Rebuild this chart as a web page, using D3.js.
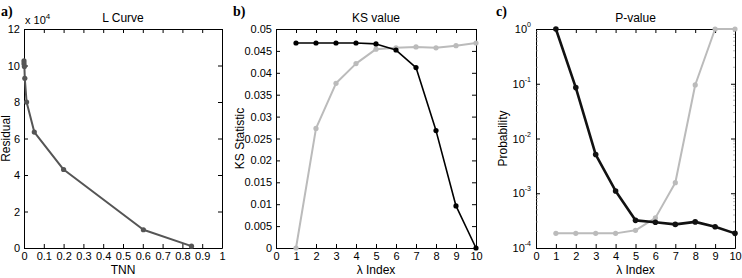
<!DOCTYPE html>
<html>
<head>
<meta charset="utf-8">
<script src="https://cdn.jsdelivr.net/npm/d3@7"></script>
<style>
  body { margin: 0; background: #fff; }
  svg text { font-family: "Liberation Sans", Arial, sans-serif; }
  .tick text { font-size: 11px; fill: #000; }
  .domain { stroke: #000; }
</style>
</head>
<body>
<div id="chart"></div>
<script>
// panel a: L curve
const tnn = [0, 0, 0.002, 0.004, 0.013, 0.052, 0.2, 0.603, 0.846];
const residual = [10.25, 10.1, 9.95, 9.3, 8.0, 6.35, 4.3, 1.0, 0.1]; // x 10^4

// panel b + c share the lambda index
const lambdaIndex = [1, 2, 3, 4, 5, 6, 7, 8, 9, 10];
const ksBlack = [0.0468, 0.0468, 0.0468, 0.0468, 0.0466, 0.0452, 0.0412, 0.0268, 0.0096, 0];
const ksGray = [0, 0.0273, 0.0376, 0.0421, 0.0454, 0.0457, 0.0459, 0.0457, 0.0462, 0.0468];
const pBlack = [1.0, 0.085, 0.0051, 0.0011, 0.00032, 0.000295, 0.00027, 0.0003, 0.000245, 0.000185];
const pGray = [0.000185, 0.000185, 0.000185, 0.000185, 0.00021, 0.000355, 0.00156, 0.095, 1.0, 1.0];

const tnnTicks = [0, 0.1, 0.2, 0.3, 0.4, 0.5, 0.6, 0.7, 0.8, 0.9, 1];
const resTicks = [0, 2, 4, 6, 8, 10, 12];
const idxTicks = [0, 1, 2, 3, 4, 5, 6, 7, 8, 9, 10];
const ksTicks = [0, 0.005, 0.01, 0.015, 0.02, 0.025, 0.03, 0.035, 0.04, 0.045, 0.05];
const pTicks = [1e-4, 1e-3, 1e-2, 1e-1, 1];

const svg = d3.select("#chart").append("svg")
  .attr("width", 742)
  .attr("height", 278);

const plotTop = 29, plotBottom = 248;

// draws a MATLAB style box with ticks on all four sides pointing inward
function drawBox(g, x, y, xTicks, yTicks, xFmt, yFmt, w, h) {
  g.append("g")
    .attr("transform", "translate(0," + h + ")")
    .call(d3.axisBottom(x).tickValues(xTicks).tickFormat(xFmt).tickSizeInner(-4).tickSizeOuter(0).tickPadding(4));
  g.append("g")
    .call(d3.axisTop(x).tickValues(xTicks).tickFormat("").tickSizeInner(-4).tickSizeOuter(0));
  g.append("g")
    .call(d3.axisLeft(y).tickValues(yTicks).tickFormat(yFmt).tickSizeInner(-4).tickSizeOuter(0).tickPadding(4));
  g.append("g")
    .attr("transform", "translate(" + w + ",0)")
    .call(d3.axisRight(y).tickValues(yTicks).tickFormat("").tickSizeInner(-4).tickSizeOuter(0));
  g.selectAll(".domain").attr("stroke-width", 1);
  g.selectAll(".tick line").attr("stroke", "#000");
}

function drawSeries(g, x, y, xs, ys, color, width, r) {
  const pts = xs.map((d, i) => [d, ys[i]]);
  g.append("path")
    .datum(pts)
    .attr("fill", "none")
    .attr("stroke", color)
    .attr("stroke-width", width)
    .attr("stroke-linejoin", "round")
    .attr("d", d3.line().x(d => x(d[0])).y(d => y(d[1])));
  g.selectAll(null)
    .data(pts)
    .enter().append("circle")
    .attr("cx", d => x(d[0]))
    .attr("cy", d => y(d[1]))
    .attr("r", r)
    .attr("fill", color);
}

function panelLabel(text, px) {
  svg.append("text")
    .attr("x", px).attr("y", 16)
    .style("font-family", "'Liberation Serif', 'Times New Roman', serif")
    .style("font-weight", "bold")
    .style("font-size", "14px")
    .text(text);
}

function axisTitles(g, w, h, title, xTitle, yTitle, yOffset) {
  g.append("text").attr("x", w / 2).attr("y", -7).attr("text-anchor", "middle")
    .style("font-size", "12px").text(title);
  g.append("text").attr("x", w / 2).attr("y", h + 26).attr("text-anchor", "middle")
    .style("font-size", "12px").text(xTitle);
  g.append("text").attr("transform", "translate(" + yOffset + "," + (h / 2) + ") rotate(-90)")
    .attr("text-anchor", "middle").style("font-size", "12px").text(yTitle);
}

// ---- panel a
{
  const left = 24, right = 222;
  const w = right - left, h = plotBottom - plotTop;
  const g = svg.append("g").attr("transform", "translate(" + left + "," + plotTop + ")");
  const x = d3.scaleLinear().domain([0, 1]).range([0, w]);
  const y = d3.scaleLinear().domain([0, 12]).range([h, 0]);
  drawBox(g, x, y, tnnTicks, resTicks, d => d, d => d, w, h);
  drawSeries(g, x, y, tnn, residual, "#555", 2, 2.6);

  const ex = g.append("text").attr("x", 1).attr("y", -5).style("font-size", "11px");
  ex.append("tspan").text("x 10");
  ex.append("tspan").attr("dy", -5).style("font-size", "8px").text("4");

  axisTitles(g, w, h, "L Curve", "TNN", "Residual", -14);
  panelLabel("a)", 1);
}

// ---- panel b
{
  const left = 276, right = 476;
  const w = right - left, h = plotBottom - plotTop;
  const g = svg.append("g").attr("transform", "translate(" + left + "," + plotTop + ")");
  const x = d3.scaleLinear().domain([0, 10]).range([0, w]);
  const y = d3.scaleLinear().domain([0, 0.05]).range([h, 0]);
  drawBox(g, x, y, idxTicks, ksTicks, d => d, d => d, w, h);
  drawSeries(g, x, y, lambdaIndex, ksGray, "#bbb", 2, 2.6);
  drawSeries(g, x, y, lambdaIndex, ksBlack, "#000", 1.6, 2.6);

  axisTitles(g, w, h, "KS value", "λ Index", "KS Statistic", -32);
  panelLabel("b)", 233);
}

// ---- panel c
{
  const left = 536, right = 735;
  const w = right - left, h = plotBottom - plotTop;
  const g = svg.append("g").attr("transform", "translate(" + left + "," + plotTop + ")");
  const x = d3.scaleLinear().domain([0, 10]).range([0, w]);
  const y = d3.scaleLog().domain([1e-4, 1]).range([h, 0]);
  drawBox(g, x, y, idxTicks, pTicks, d => d, () => "", w, h);

  // minor log ticks
  const minor = [];
  pTicks.slice(0, -1).forEach(p => { for (let k = 2; k <= 9; k++) minor.push(p * k); });
  g.selectAll(null).data(minor).enter().append("line")
    .attr("x1", 0).attr("x2", 2)
    .attr("y1", d => y(d)).attr("y2", d => y(d))
    .attr("stroke", "#888").attr("stroke-width", 0.6);
  g.selectAll(null).data(minor).enter().append("line")
    .attr("x1", w).attr("x2", w - 2)
    .attr("y1", d => y(d)).attr("y2", d => y(d))
    .attr("stroke", "#888").attr("stroke-width", 0.6);

  // exponent tick labels
  pTicks.forEach(p => {
    const t = g.append("text").attr("x", -5).attr("y", y(p) + 4)
      .attr("text-anchor", "end").style("font-size", "11px");
    t.append("tspan").text("10");
    t.append("tspan").attr("dy", -6).style("font-size", "7px").text(Math.round(Math.log10(p)));
  });

  drawSeries(g, x, y, lambdaIndex, pGray, "#bbb", 2, 2.6);
  drawSeries(g, x, y, lambdaIndex, pBlack, "#111", 2.6, 2.8);

  axisTitles(g, w, h, "P-value", "λ Index", "Probability", -29);
  panelLabel("c)", 496);
}
</script>
</body>
</html>
